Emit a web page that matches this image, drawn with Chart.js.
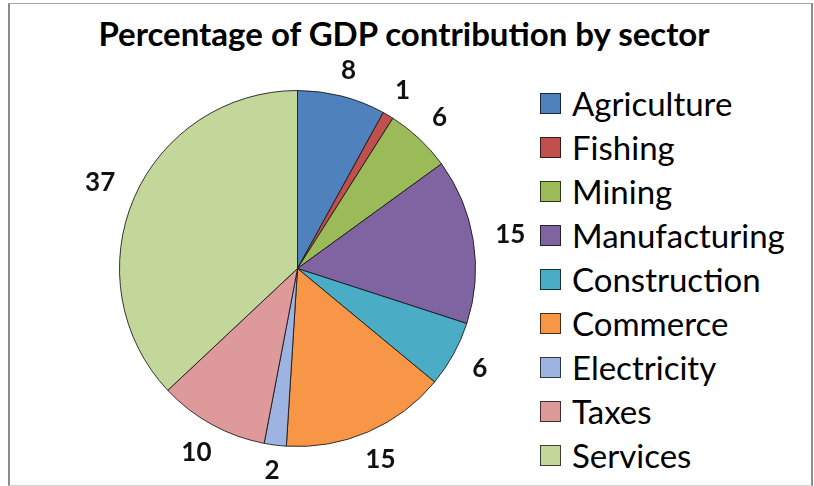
<!DOCTYPE html>
<html><head><meta charset="utf-8">
<script src="https://cdn.jsdelivr.net/npm/chart.js@4.4.0/dist/chart.umd.min.js"></script>
<style>
html,body{margin:0;padding:0;background:#fff;}
body{width:814px;height:486px;position:relative;overflow:hidden;font-family:Lato,"Open Sans",sans-serif;}
#frame{position:absolute;left:8px;top:3px;width:805px;height:483px;box-sizing:border-box;border-left:2px solid #8c8c8c;border-right:2px solid #8c8c8c;border-top:1px solid #a6a6a6;border-bottom:1px solid #d4d4d4;}
#title{position:absolute;left:0;width:808px;top:14px;line-height:38px;text-align:center;font-weight:bold;font-size:33px;color:#000;}
#chartBox{position:absolute;left:57px;top:36px;width:480px;height:448px;}
#legend{position:absolute;left:540px;top:82px;}
.row{height:43.9px;display:flex;align-items:center;}
.sw{width:21px;height:21px;box-sizing:border-box;border:1px solid rgba(0,0,0,0.7);margin-right:11px;}
.lt{font-size:33px;color:#000;line-height:1;}
</style></head>
<body>
<div id="frame"></div>
<div id="title"></div>
<div id="chartBox"><canvas id="c" width="480" height="448"></canvas></div>
<div id="legend"></div>
<script>
const chartTitle = 'Percentage of GDP contribution by sector';
const sectors = ['Agriculture','Fishing','Mining','Manufacturing','Construction','Commerce','Electricity','Taxes','Services'];
const values = [8, 1, 6, 15, 6, 15, 2, 10, 37];
const sliceColors = ['#4F81BD','#C0504D','#9BBB59','#8064A2','#4BACC6','#F79646','#9DB4E2','#DE9A9A','#C4D79B'];

document.getElementById('title').textContent = chartTitle;

const sliceLabels = {
  id: 'sliceLabels',
  afterDatasetsDraw(chart) {
    const ctx = chart.ctx;
    const meta = chart.getDatasetMeta(0);
    const vals = chart.data.datasets[0].data;
    ctx.save();
    ctx.font = 'bold 26px Lato, sans-serif';
    ctx.fillStyle = '#111';
    ctx.textAlign = 'center';
    ctx.textBaseline = 'middle';
    meta.data.forEach((arc, i) => {
      const p = arc.getProps(['x','y','startAngle','endAngle','outerRadius'], true);
      const mid = (p.startAngle + p.endAngle) / 2;
      const txt = String(vals[i]);
      const w = ctx.measureText(txt).width, h = 6;
      const ext = Math.abs(Math.cos(mid)) * w / 2 + Math.abs(Math.sin(mid)) * h / 2;
      const d = p.outerRadius + 22 + ext;
      ctx.fillText(txt, p.x + Math.cos(mid) * d, p.y + Math.sin(mid) * d);
    });
    ctx.restore();
  }
};

const chart = new Chart(document.getElementById('c'), {
  type: 'pie',
  data: {
    labels: sectors,
    datasets: [{
      data: values,
      backgroundColor: sliceColors,
      borderColor: 'rgba(20,20,20,0.85)',
      borderWidth: 1
    }]
  },
  options: {
    responsive: false,
    animation: false,
    devicePixelRatio: 1,
    layout: { padding: { left: 62, right: 61, top: 54, bottom: 37 } },
    plugins: {
      legend: { display: false },
      title: { display: false },
      tooltip: { enabled: false }
    }
  },
  plugins: [sliceLabels]
});

const legendEl = document.getElementById('legend');
chart.data.labels.forEach((lab, i) => {
  const row = document.createElement('div');
  row.className = 'row';
  const sw = document.createElement('div');
  sw.className = 'sw';
  sw.style.background = chart.data.datasets[0].backgroundColor[i];
  const t = document.createElement('span');
  t.className = 'lt';
  t.textContent = lab;
  row.appendChild(sw);
  row.appendChild(t);
  legendEl.appendChild(row);
});
</script>
</body></html>
